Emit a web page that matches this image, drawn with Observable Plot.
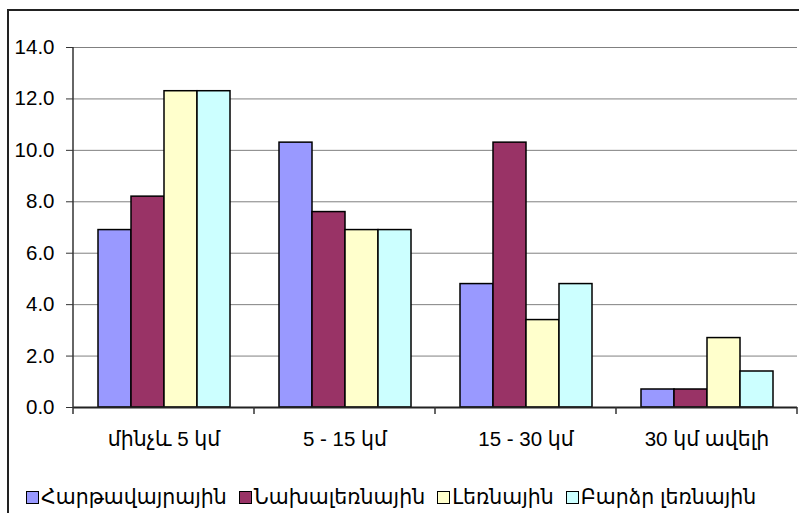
<!DOCTYPE html>
<html><head><meta charset="utf-8">
<script src="https://cdn.jsdelivr.net/npm/d3@7"></script>
<script src="https://cdn.jsdelivr.net/npm/@observablehq/plot@0.6"></script>
<style>
body{margin:0;background:#fff;font-family:"Liberation Sans","DejaVu Sans",sans-serif;}
#wrap{position:relative;width:799px;height:513px;overflow:hidden;background:#fff;}
#frame{position:absolute;left:7px;top:9px;width:830px;height:620px;border-left:2px solid #222;border-top:2px solid #222;pointer-events:none;}
#legend{position:absolute;left:26px;top:486px;height:22px;display:flex;align-items:center;font-size:20.5px;color:#000;white-space:nowrap;}
.item{display:flex;align-items:center;margin-right:12px;}
.sw{width:11px;height:11px;border:1.5px solid #000;margin-right:2px;}
</style></head><body>
<div id="wrap"><div id="chart"></div><div id="legend"></div><div id="frame"></div></div>
<script>
const groups = ["մինչև 5 կմ", "5 - 15 կմ", "15 - 30 կմ", "30 կմ ավելի"];
const series = ["Հարթավայրային", "Նախալեռնային", "Լեռնային", "Բարձր լեռնային"];
const colors = ["#9999FF", "#993366", "#FFFFCC", "#CCFFFF"];
const hartavayrayin = [6.9, 10.3, 4.8, 0.7];
const nakhalernayin = [8.2, 7.6, 10.3, 0.7];
const lernayin = [12.3, 6.9, 3.4, 2.7];
const bardzrLernayin = [12.3, 6.9, 4.8, 1.4];
const yTicks = [0, 2, 4, 6, 8, 10, 12, 14];

const seriesValues = [hartavayrayin, nakhalernayin, lernayin, bardzrLernayin];
const data = [];
series.forEach((s, i) => groups.forEach((g, j) => data.push({group: g, series: s, value: seriesValues[i][j]})));

const FONT = '"Liberation Sans","DejaVu Sans",sans-serif';
const chart = Plot.plot({
  width: 799, height: 470,
  marginLeft: 72, marginRight: 1, marginTop: 47, marginBottom: 63,
  style: {fontFamily: FONT, fontSize: "20.5px", color: "#000", background: "none", overflow: "visible"},
  fx: {domain: groups, padding: 0, label: null},
  x: {domain: series, paddingInner: 0, paddingOuter: 0.72, axis: null},
  y: {domain: [0, 14], label: null},
  color: {domain: series, range: colors},
  marks: [
    Plot.gridY(yTicks, {stroke: "#808080", strokeOpacity: 1, strokeWidth: 1}),
    Plot.barY(data, {fx: "group", x: "series", y: "value", fill: "series", stroke: "#000", strokeWidth: 1.5}),
    Plot.ruleY([0], {stroke: "#222", strokeWidth: 2}),
    Plot.axisY(yTicks, {tickFormat: d3.format(".1f"), tickSize: 7, tickPadding: 12, stroke: "#333", label: null, fontSize: 20.5}),
    Plot.axisFx({anchor: "bottom", tickSize: 0, tickPadding: 24, label: null, fontSize: 20.5})
  ]
});
document.getElementById("chart").appendChild(chart);

// axis line and category separator ticks from the library's scales
const fx = chart.scale("fx"), y = chart.scale("y");
const svg = d3.select(chart);
const y0 = y.apply(0), yTop = y.apply(14);
const bounds = groups.map(g => fx.apply(g));
bounds.push(fx.apply(groups[groups.length - 1]) + fx.bandwidth);
svg.append("line").attr("x1", bounds[0]).attr("x2", bounds[0]).attr("y1", yTop).attr("y2", y0)
  .attr("stroke", "#333").attr("stroke-width", 1.5);
bounds.forEach(b => svg.append("line").attr("x1", b).attr("x2", b).attr("y1", y0).attr("y2", y0 + 7)
  .attr("stroke", "#333").attr("stroke-width", 1.5));

// legend
const legend = d3.select("#legend");
series.forEach((s, i) => {
  const it = legend.append("div").attr("class", "item");
  it.append("div").attr("class", "sw").style("background", colors[i]);
  it.append("span").text(s);
});
</script>
</body></html>
